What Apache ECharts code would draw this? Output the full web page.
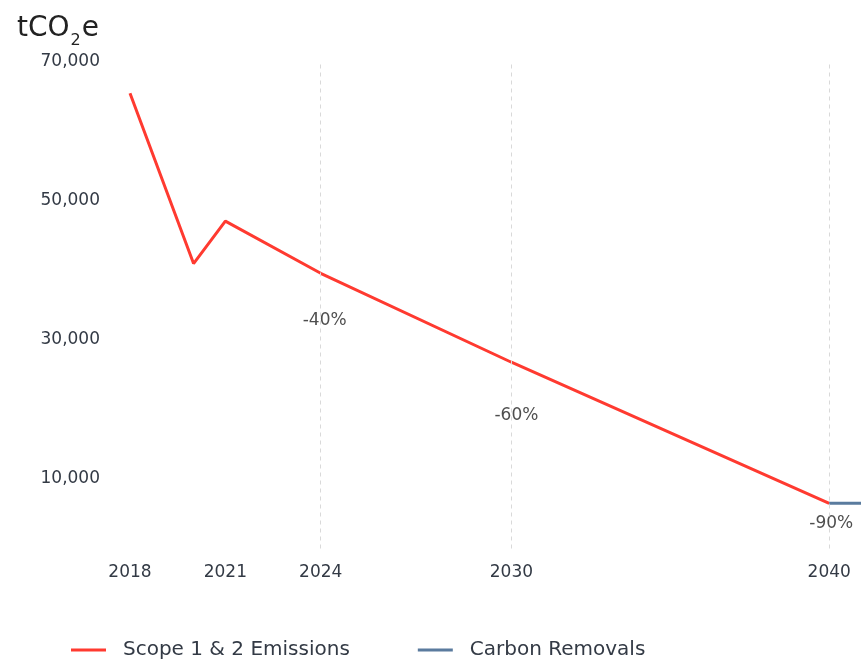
<!DOCTYPE html>
<html>
<head>
<meta charset="utf-8">
<script src="https://cdn.jsdelivr.net/npm/echarts@6/dist/echarts.min.js"></script>
<style>html,body{margin:0;padding:0;background:#fff;}#c{width:861px;height:660px;}</style>
</head>
<body>
<div id="c"></div>
<script>
// Data
var emissionYears = [2018, 2020, 2021, 2024, 2030, 2040];
var emissionValues = [65500, 41000, 47100, 39600, 26800, 6500];
var removalYears = [2040, 2041];
var removalValues = [6500, 6500];
var xTickYears = [2018, 2021, 2024, 2030, 2040];
var gridYears = [2024, 2030, 2040];
var targetYears = [2024, 2030, 2040];
var targetValues = [39600, 26800, 6500];
var targetLabels = ['-40%', '-60%', '-90%'];
var yTickValues = [10000, 30000, 50000, 70000];

var FONT = '"DejaVu Sans"';
var TXT = '#333a45';
var labelOffsets = [[4, 47], [5, 53], [2, 20]];

var chart = echarts.init(document.getElementById('c'), null, {renderer: 'canvas'});
chart.setOption({
  animation: false,
  backgroundColor: '#ffffff',
  title: {
    left: 12, top: 10,
    text: '{a|tCO}{b|2}{a|e}',
    textStyle: {
      fontWeight: 'normal',
      rich: {
        a: {fontFamily: FONT, fontSize: 28, lineHeight: 34, color: '#222', fontWeight: 'normal', verticalAlign: 'top'},
        b: {fontFamily: FONT, fontSize: 16, lineHeight: 16, color: '#222', fontWeight: 'normal', padding: [18, 1, 0, 1], verticalAlign: 'top'}
      }
    }
  },
  grid: {left: 130, right: 0, top: 62, bottom: 111.5, containLabel: false},
  xAxis: {
    type: 'value', min: 2018, max: 2041,
    axisLine: {show: false}, axisTick: {show: false}, splitLine: {show: false},
    axisLabel: {
      customValues: xTickYears,
      formatter: function (v) { return String(v); },
      fontFamily: FONT, fontSize: 17, color: TXT, margin: 16
    }
  },
  yAxis: {
    type: 'value', min: 0, max: 70000, interval: 10000,
    axisLine: {show: false}, axisTick: {show: false}, splitLine: {show: false},
    axisLabel: {
      customValues: yTickValues,
      formatter: function (v) { return v.toLocaleString('en-US'); },
      fontFamily: FONT, fontSize: 17, color: TXT, margin: 30
    }
  },
  legend: {
    top: 640, left: 71, padding: 0,
    itemWidth: 35, itemHeight: 3, itemGap: 68,
    icon: 'rect',
    textStyle: {fontFamily: FONT, fontSize: 20, color: TXT, padding: [0, 0, 0, 12]},
    data: ['Scope 1 & 2 Emissions', 'Carbon Removals']
  },
  series: [
    {
      name: 'Scope 1 & 2 Emissions', type: 'line',
      data: emissionYears.map(function (y, i) { return [y, emissionValues[i]]; }),
      symbol: 'none', lineStyle: {color: '#ff3a30', width: 3}, itemStyle: {color: '#ff3a30'},
      z: 3,
      markLine: {
        silent: true, symbol: 'none', label: {show: false},
        lineStyle: {color: '#d9d9d9', type: [4, 4], width: 1},
        data: gridYears.map(function (y) { return {xAxis: y}; })
      }
    },
    {
      name: 'Carbon Removals', type: 'line',
      data: removalYears.map(function (y, i) { return [y, removalValues[i]]; }),
      symbol: 'none', lineStyle: {color: '#5a7b9e', width: 3}, itemStyle: {color: '#5a7b9e'},
      z: 3
    },
    {
      name: 'targets', type: 'scatter', symbolSize: 0, silent: true,
      data: targetYears.map(function (y, i) {
        return {
          value: [y, targetValues[i]],
          label: {show: true, formatter: targetLabels[i], position: 'inside', offset: labelOffsets[i],
            fontFamily: FONT, fontSize: 17, color: '#222'}
        };
      }),
      z: 4
    }
  ]
});
</script>
</body>
</html>
